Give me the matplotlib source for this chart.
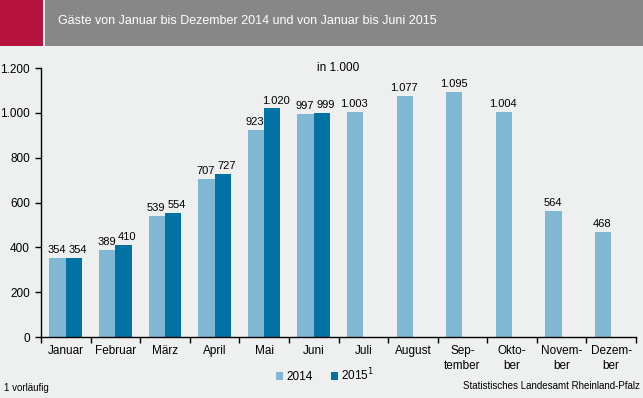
import matplotlib
matplotlib.use("Agg")
import matplotlib.pyplot as plt
import numpy as np
from matplotlib.patches import Rectangle

plt.rcParams['font.family'] = ['Liberation Sans', 'DejaVu Sans']

months = ["Januar", "Februar", "März", "April", "Mai", "Juni", "Juli", "August",
          "Sep-\ntember", "Okto-\nber", "Novem-\nber", "Dezem-\nber"]
v2014 = [354, 389, 539, 707, 923, 997, 1003, 1077, 1095, 1004, 564, 468]
v2015 = [354, 410, 554, 727, 1020, 999]
yticks = [0, 200, 400, 600, 800, 1000, 1200]
ytick_labels = ["0", "200", "400", "600", "800", "1.000", "1.200"]

c2014 = "#80b8d3"
c2015 = "#0072a3"
bg = "#eeefef"

fig = plt.figure(figsize=(6.43, 3.98), dpi=100, facecolor=bg)

# title bar
fig.patches.append(Rectangle((0, 1 - 46/398), 43/643, 46/398, transform=fig.transFigure,
                             facecolor="#b5123e", edgecolor="none", zorder=0))
fig.patches.append(Rectangle((45/643, 1 - 46/398), 1 - 45/643, 46/398, transform=fig.transFigure,
                             facecolor="#878787", edgecolor="none", zorder=0))
fig.text(58/643, 1 - 21/398, "Gäste von Januar bis Dezember 2014 und von Januar bis Juni 2015",
         color="white", fontsize=9, va="center", ha="left")

ax = fig.add_axes([41/643, 61/398, (636-41)/643, (337-68)/398])
ax.set_facecolor(bg)

x = np.arange(len(months))
w = 0.33
b1 = ax.bar(x - w/2, v2014, width=w, color=c2014, label="2014")
x2 = np.arange(len(v2015))
b2 = ax.bar(x2 + w/2, v2015, width=w, color=c2015, label="2015")

def fmt(v):
    return f"{v:,}".replace(",", ".")

for xi, v in zip(x - w/2, v2014):
    ax.annotate(fmt(v), (xi, v), xytext=(-0.5, 2), textcoords="offset points",
                ha="center", va="bottom", fontsize=8)
for xi, v in zip(x2 + w/2, v2015):
    ax.annotate(fmt(v), (xi, v), xytext=(2.5, 2), textcoords="offset points",
                ha="center", va="bottom", fontsize=8)

ax.set_xlim(-0.5, len(months) - 0.5)
ax.set_ylim(0, 1200)
ax.set_yticks(yticks)
ax.set_yticklabels(ytick_labels, fontsize=8.5)
ax.set_xticks(np.arange(-0.5, len(months), 1.0))
ax.set_xticklabels([])
ax.set_xticks(x, minor=True)
ax.set_xticklabels(months, minor=True, fontsize=8.5, linespacing=1.3)
ax.tick_params(axis="x", which="minor", length=0, pad=6)
ax.tick_params(axis="x", which="major", length=4, direction="out", width=1)
ax.tick_params(axis="y", length=4, direction="out", width=1, pad=4)
for s in ["top", "right"]:
    ax.spines[s].set_visible(False)
for s in ["left", "bottom"]:
    ax.spines[s].set_linewidth(1)

ax.annotate("in 1.000", (0.5, 1.0), xycoords="axes fraction", xytext=(0, 0),
            textcoords="offset points", ha="center", va="center", fontsize=8.5)

leg = fig.legend(handles=[b1, b2], labels=["2014", "2015$^1$"], loc="center",
                 bbox_to_anchor=(325/643, 1 - 375/398), ncol=2, frameon=False,
                 fontsize=8.5, handlelength=0.6, handleheight=0.6, handletextpad=0.25,
                 columnspacing=1.6)

fig.text(4/643, 1 - 388/398, "1 vorläufig", fontsize=7, va="center", ha="left")
fig.text(640/643, 1 - 386/398, "Statistisches Landesamt Rheinland-Pfalz", fontsize=7,
         va="center", ha="right")

fig.savefig("out.png", dpi=100, facecolor=bg)
